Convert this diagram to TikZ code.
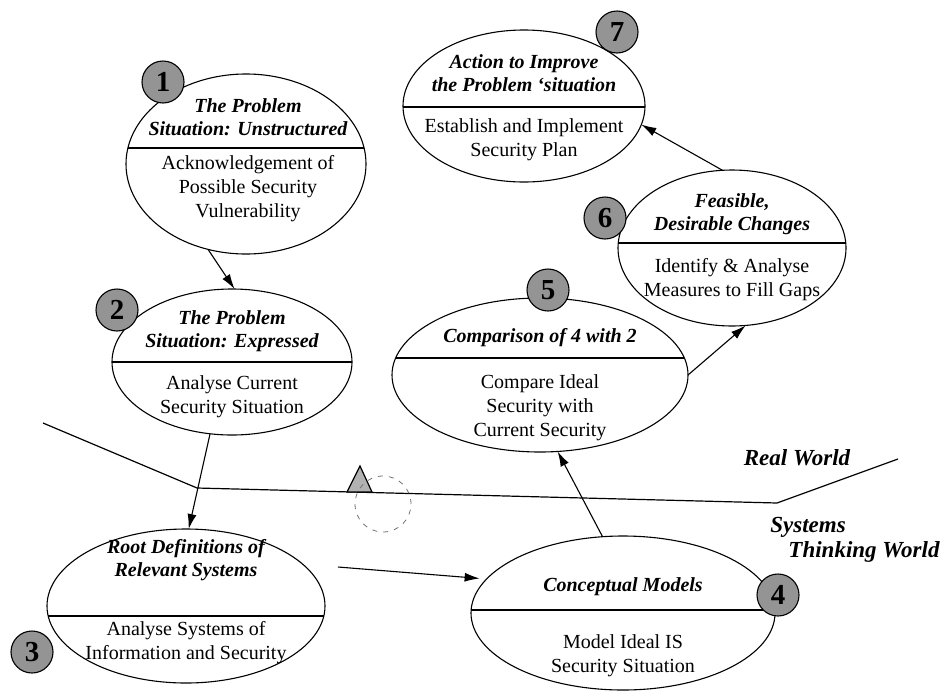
\documentclass[tikz,border=0pt]{standalone}
\usepackage{fontspec}
\setmainfont{Liberation Serif}
\usetikzlibrary{shapes.geometric,arrows.meta}
\begin{document}
\begin{tikzpicture}[x=1pt,y=-1pt,
  phase/.style={ellipse,draw,line width=1.1pt,inner sep=0pt,outer sep=0pt},
  divider/.style={line width=1.5pt},
  head/.style={align=center,inner sep=0pt,font=\fontsize{20}{23}\selectfont\bfseries\itshape},
  body/.style={align=center,inner sep=0pt,font=\fontsize{20}{24}\selectfont},
  num/.style={circle,draw,line width=1.1pt,fill=black!42,minimum size=42pt,inner sep=0pt,
    font=\fontsize{29}{29}\selectfont\bfseries},
  arr/.style={line width=1.1pt,-{Latex[length=15pt,width=9pt]}},
  world/.style={inner sep=0pt,font=\fontsize{23}{26}\selectfont\bfseries\itshape},
]
\useasboundingbox (0,0) rectangle (949,691);

% boundary between the real world and systems thinking
\coordinate (w0) at (43,423);
\coordinate (w1) at (197,488);
\coordinate (w2) at (777,503);
\coordinate (w3) at (898,459);
\draw[line width=1.2pt] (w0) -- (w1) -- (w2) -- (w3);
\draw[fill=black!30,line width=1.2pt] (347,492) -- (360,466) -- (372,492) -- cycle;
\draw[black!55,line width=0.8pt,dash pattern=on 5pt off 6pt] (383,504) circle[radius=28pt];

% stage 1
\node[phase,minimum width=240pt,minimum height=180pt] (e1) at (246,164) {};
\begin{scope}\clip (246,164) ellipse[x radius=120pt,y radius=90pt];
\draw[divider] (100,148) -- (400,148);\end{scope}
\node[head] (h1) at (248,117) {The Problem\\Situation: Unstructured};
\node[body] (b1) at (248,189) {Acknowledgement of\\Possible Security\\Vulnerability};

% stage 7
\node[phase,minimum width=242pt,minimum height=152pt] (e7) at (524,106) {};
\begin{scope}\clip (524,106) ellipse[x radius=121pt,y radius=76pt];
\draw[divider] (380,107) -- (680,107);\end{scope}
\node[head] (h7) at (524,73) {Action to Improve\\the Problem ‘situation};
\node[body] (b7) at (524,140) {Establish and Implement\\Security Plan};

% stage 6
\node[phase,minimum width=228pt,minimum height=156pt] (e6) at (732,248) {};
\begin{scope}\clip (732,248) ellipse[x radius=114pt,y radius=78pt];
\draw[divider] (600,243) -- (860,243);\end{scope}
\node[head] (h6) at (732,214) {Feasible,\\Desirable Changes};
\node[body] (b6) at (732,280) {Identify \& Analyse\\Measures to Fill Gaps};

% stage 2
\node[phase,minimum width=240pt,minimum height=146pt] (e2) at (232,362) {};
\begin{scope}\clip (232,362) ellipse[x radius=120pt,y radius=73pt];
\draw[divider] (100,362) -- (370,362);\end{scope}
\node[head] (h2) at (232,331) {The Problem\\Situation: Expressed};
\node[body] (b2) at (232,397) {Analyse Current\\Security Situation};

% stage 5
\node[phase,minimum width=296pt,minimum height=154pt] (e5) at (540,375) {};
\begin{scope}\clip (540,375) ellipse[x radius=148pt,y radius=77pt];
\draw[divider] (380,358) -- (700,358);\end{scope}
\node[head] (h5) at (540,338) {Comparison of 4 with 2};
\node[body] (b5) at (540,408) {Compare Ideal\\Security with\\Current Security};

% stage 3
\node[phase,minimum width=278pt,minimum height=154pt] (e3) at (186,606) {};
\begin{scope}\clip (186,606) ellipse[x radius=139pt,y radius=77pt];
\draw[divider] (40,616) -- (340,616);\end{scope}
\node[head] (h3) at (186,560) {Root Definitions of\\Relevant Systems};
\node[body] (b3) at (186,643) {Analyse Systems of\\Information and Security};

% stage 4
\node[phase,minimum width=304pt,minimum height=154pt] (e4) at (623,613) {};
\begin{scope}\clip (623,613) ellipse[x radius=152pt,y radius=77pt];
\draw[divider] (460,610) -- (790,610);\end{scope}
\node[head] (h4) at (623,587) {Conceptual Models};
\node[body] (b4) at (623,656) {Model Ideal IS\\Security Situation};

% flow between the stages
\coordinate (c34) at (338,567);
\draw[arr] (e1.-114) -- (e2.88);
\draw[arr] (e2.-107) -- (e3.88);
\draw[arr,shorten >=7pt] (c34) -- (e4.166);
\draw[arr] (e4.105) -- (e5.-77);
\draw[arr] (e5.0) -- (e6.-80);
\draw[arr] (e6.97) -- (e7.-9);

% stage numbers
\node[num] (n1) at (163,82) {1};
\node[num] (n2) at (117,310) {2};
\node[num] (n3) at (32,652) {3};
\node[num] (n4) at (778,595) {4};
\node[num] (n5) at (548,290) {5};
\node[num] (n6) at (605,218) {6};
\node[num] (n7) at (617,32) {7};

% world labels
\node[world] (rw) at (797,458) {Real World};
\node[world] (sys) at (808,527) {Systems};
\node[world] (tw) at (864,552) {Thinking World};
\end{tikzpicture}
\end{document}
